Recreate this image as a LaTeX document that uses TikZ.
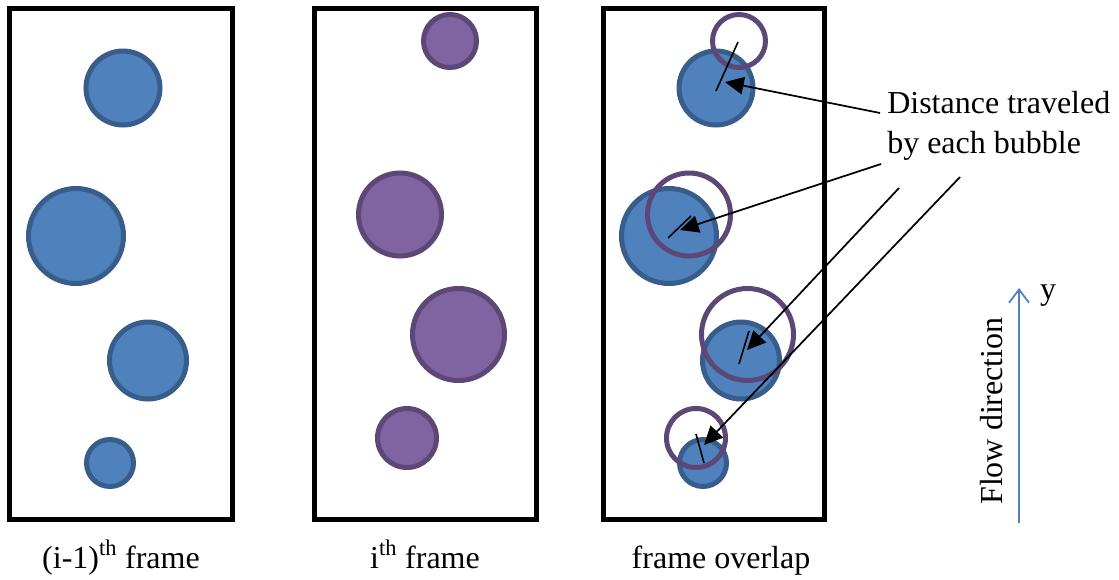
\documentclass[tikz,border=0pt]{standalone}
\usepackage{fontspec}
\setmainfont{Liberation Serif}
\usetikzlibrary{arrows.meta}
\definecolor{bfill}{HTML}{4F81BD}
\definecolor{bline}{HTML}{385D8A}
\definecolor{pfill}{HTML}{8064A2}
\definecolor{pline}{HTML}{5C4776}
\begin{document}
\begin{tikzpicture}[x=0.75pt,y=-0.75pt,
  framebox/.style={draw=black,line width=3.75pt},
  bblue/.style={circle,draw=bline,fill=bfill,line width=3.75pt,inner sep=0pt,minimum size=#1*1.5pt},
  bpurple/.style={circle,draw=pline,fill=pfill,line width=3.75pt,inner sep=0pt,minimum size=#1*1.5pt},
  bring/.style={circle,draw=pline,line width=3.75pt,inner sep=0pt,minimum size=#1*1.5pt},
  disp/.style={draw=black,line width=1.2pt},
  pointer/.style={draw=black,line width=1.3pt,-{Triangle[length=14pt,width=13pt]}},
  lbl/.style={font=\fontsize{24}{30}\selectfont,inner sep=0pt,anchor=base},
  flow/.style={draw=bfill,line width=1.3pt,-{Straight Barb[length=10pt,width=15pt,line width=1.3pt]}}
]
\useasboundingbox (0,0) rectangle (1119,579);
% frames
\draw[framebox] (9.5,8.5) rectangle (232,519);
\draw[framebox] (314,8.5) rectangle (536,519);
\draw[framebox] (603,8.5) rectangle (824.5,519);
% frame 1 bubbles
\node[bblue=37] (a1) at (123,88) {};
\node[bblue=47.5] (a2) at (76,236) {};
\node[bblue=38.5] (a3) at (148,360.5) {};
\node[bblue=23.5] (a4) at (110,463) {};
% frame 2 bubbles
\node[bpurple=26.5] (b1) at (450,41) {};
\node[bpurple=41.5] (b2) at (400,214.5) {};
\node[bpurple=46] (b3) at (458.5,334.5) {};
\node[bpurple=29.5] (b4) at (407,438) {};
% frame 3 overlap
\node[bblue=37] (c1) at (716,88) {};
\node[bblue=47.5] (c2) at (669,236) {};
\node[bblue=38.5] (c3) at (741,360.5) {};
\node[bblue=23.5] (c4) at (703,463) {};
\node[bring=26.5] (d1) at (739,41) {};
\node[bring=41.5] (d2) at (689,214.5) {};
\node[bring=46] (d3) at (747.5,334.5) {};
\node[bring=29.5] (d4) at (696,438) {};
% displacement lines
\coordinate (s1) at (716,91);  \coordinate (e1) at (738,42);
\coordinate (s2) at (668,238); \coordinate (e2) at (691,216);
\coordinate (s3) at (739,364); \coordinate (e3) at (749,331);
\coordinate (s4) at (704,463); \coordinate (e4) at (696,434);
\draw[disp] (s1) -- (e1);
\draw[disp] (s2) -- (e2);
\draw[disp] (s3) -- (e3);
\draw[disp] (s4) -- (e4);
% label and pointers
\node[lbl,anchor=base west,align=left] (txt) at (887,153) {Distance traveled\\by each bubble};
\coordinate (p1) at (880,113); \coordinate (t1) at (725,82);
\coordinate (p2) at (881,164); \coordinate (t2) at (680,230);
\coordinate (p3) at (899,188); \coordinate (t3) at (747,350);
\coordinate (p4) at (960,177); \coordinate (t4) at (704,445);
\draw[pointer] (p1) -- (t1);
\draw[pointer] (p2) -- (t2);
\draw[pointer] (p3) -- (t3);
\draw[pointer] (p4) -- (t4);
% flow direction
\coordinate (fb) at (1019,523);
\coordinate (ft) at (1019,288);
\draw[flow] (fb) -- (ft);
\node[lbl] (ylab) at (1048,299) {y};
\node[font=\fontsize{24}{30}\selectfont,inner sep=0pt,rotate=90] (fd) at (992,411) {Flow direction};
% captions
\node[lbl] (cap1) at (121,568) {(i-1)\textsuperscript{th} frame};
\node[lbl] (cap2) at (425,568) {i\textsuperscript{th} frame};
\node[lbl] (cap3) at (721,568) {frame overlap};
\end{tikzpicture}
\end{document}
